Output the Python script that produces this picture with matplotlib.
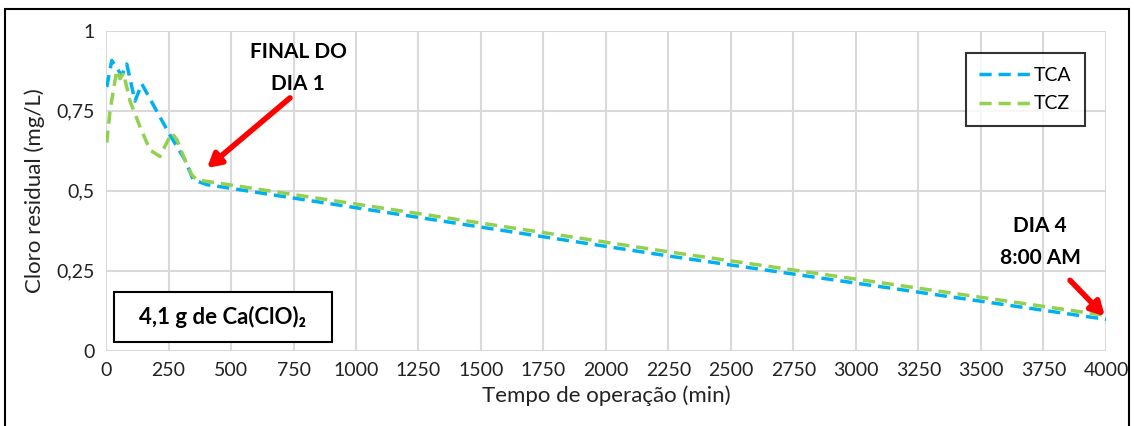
import matplotlib.pyplot as plt
from matplotlib.patches import Rectangle

# Data
tca_time = [3, 23, 63, 83, 116, 143, 216, 256, 316, 349, 403, 1750, 2250, 4000]
tca_cloro = [0.824, 0.907, 0.86, 0.896, 0.78, 0.834, 0.73, 0.674, 0.596, 0.534, 0.519, 0.356, 0.296, 0.098]

tcz_time = [3, 16, 43, 56, 70, 96, 136, 176, 216, 243, 263, 283, 316, 343, 363, 1750, 2250, 4000]
tcz_cloro = [0.65, 0.75, 0.876, 0.85, 0.868, 0.78, 0.70, 0.627, 0.607, 0.65, 0.68, 0.66, 0.596, 0.55, 0.534, 0.369, 0.309, 0.11]

x_ticks = list(range(0, 4001, 250))
y_ticks = [0, 0.25, 0.5, 0.75, 1]
y_tick_labels = ["0", "0,25", "0,5", "0,75", "1"]

BLUE = "#00B0F0"
GREEN = "#92D050"
FONT = ["Lato", "DejaVu Sans"]

plt.rcParams['font.family'] = FONT

fig = plt.figure(figsize=(11.34, 4.26), dpi=100)
ax = fig.add_axes([106 / 1134, 1 - 350.7 / 426, 1000 / 1134, 320 / 426])

ax.plot(tca_time, tca_cloro, color=BLUE, lw=2.5, ls=(0, (3.5, 2)), label="TCA")
ax.plot(tcz_time, tcz_cloro, color=GREEN, lw=2.5, ls=(0, (3.5, 2)), label="TCZ")

ax.set_xlim(0, 4000)
ax.set_ylim(0, 1)
ax.set_xticks(x_ticks)
ax.set_yticks(y_ticks)
ax.set_yticklabels(y_tick_labels)
ax.tick_params(length=0, labelsize=14, colors="#222222", pad=8)
ax.grid(True, color="#d9d9d9", lw=1.5)
ax.set_axisbelow(True)
for s in ax.spines.values():
    s.set_visible(False)

ax.set_xlabel("Tempo de operação (min)", fontsize=16, color="#222222", labelpad=5)
ax.set_ylabel("Cloro residual (mg/L)", fontsize=16, color="#222222", labelpad=8)

leg = ax.legend(loc="upper right", bbox_to_anchor=(0.979, 0.93), fontsize=14,
                frameon=True, fancybox=False, handlelength=2.6, labelspacing=0.6,
                borderpad=0.7, handletextpad=0.2, borderaxespad=0)
leg.get_frame().set_edgecolor("black")
leg.get_frame().set_linewidth(1.5)

# Annotations
arrow = dict(arrowstyle="-|>,head_length=0.8,head_width=0.45",
             color="#FF0000", lw=4, shrinkA=0, shrinkB=0)
ax.text(768, 0.885, "FINAL DO\nDIA 1", ha="center", va="center",
        fontsize=15, fontweight="bold", linespacing=1.75)
ax.annotate("", xy=(404, 0.571), xytext=(736, 0.79), arrowprops=arrow)
ax.text(3736, 0.34, "DIA 4\n8:00 AM", ha="center", va="center",
        fontsize=15, fontweight="bold", linespacing=1.75)
ax.annotate("", xy=(3995, 0.108), xytext=(3856, 0.22), arrowprops=arrow)

# dose box
ax.add_patch(Rectangle((32, 0.027), 872, 0.156, facecolor="white",
                       edgecolor="black", lw=1.5, zorder=5))
ax.text(468, 0.105, "4,1 g de Ca(ClO)₂", ha="center", va="center",
        fontsize=16, fontweight="bold", family=FONT, zorder=6)

# figure border
fig.patches.append(Rectangle((5 / 1134, -0.05), 1124 / 1134, 1.05 - 9 / 426,
                             transform=fig.transFigure, fill=False,
                             edgecolor="black", lw=1.5))

plt.savefig("out.png", dpi=100)
